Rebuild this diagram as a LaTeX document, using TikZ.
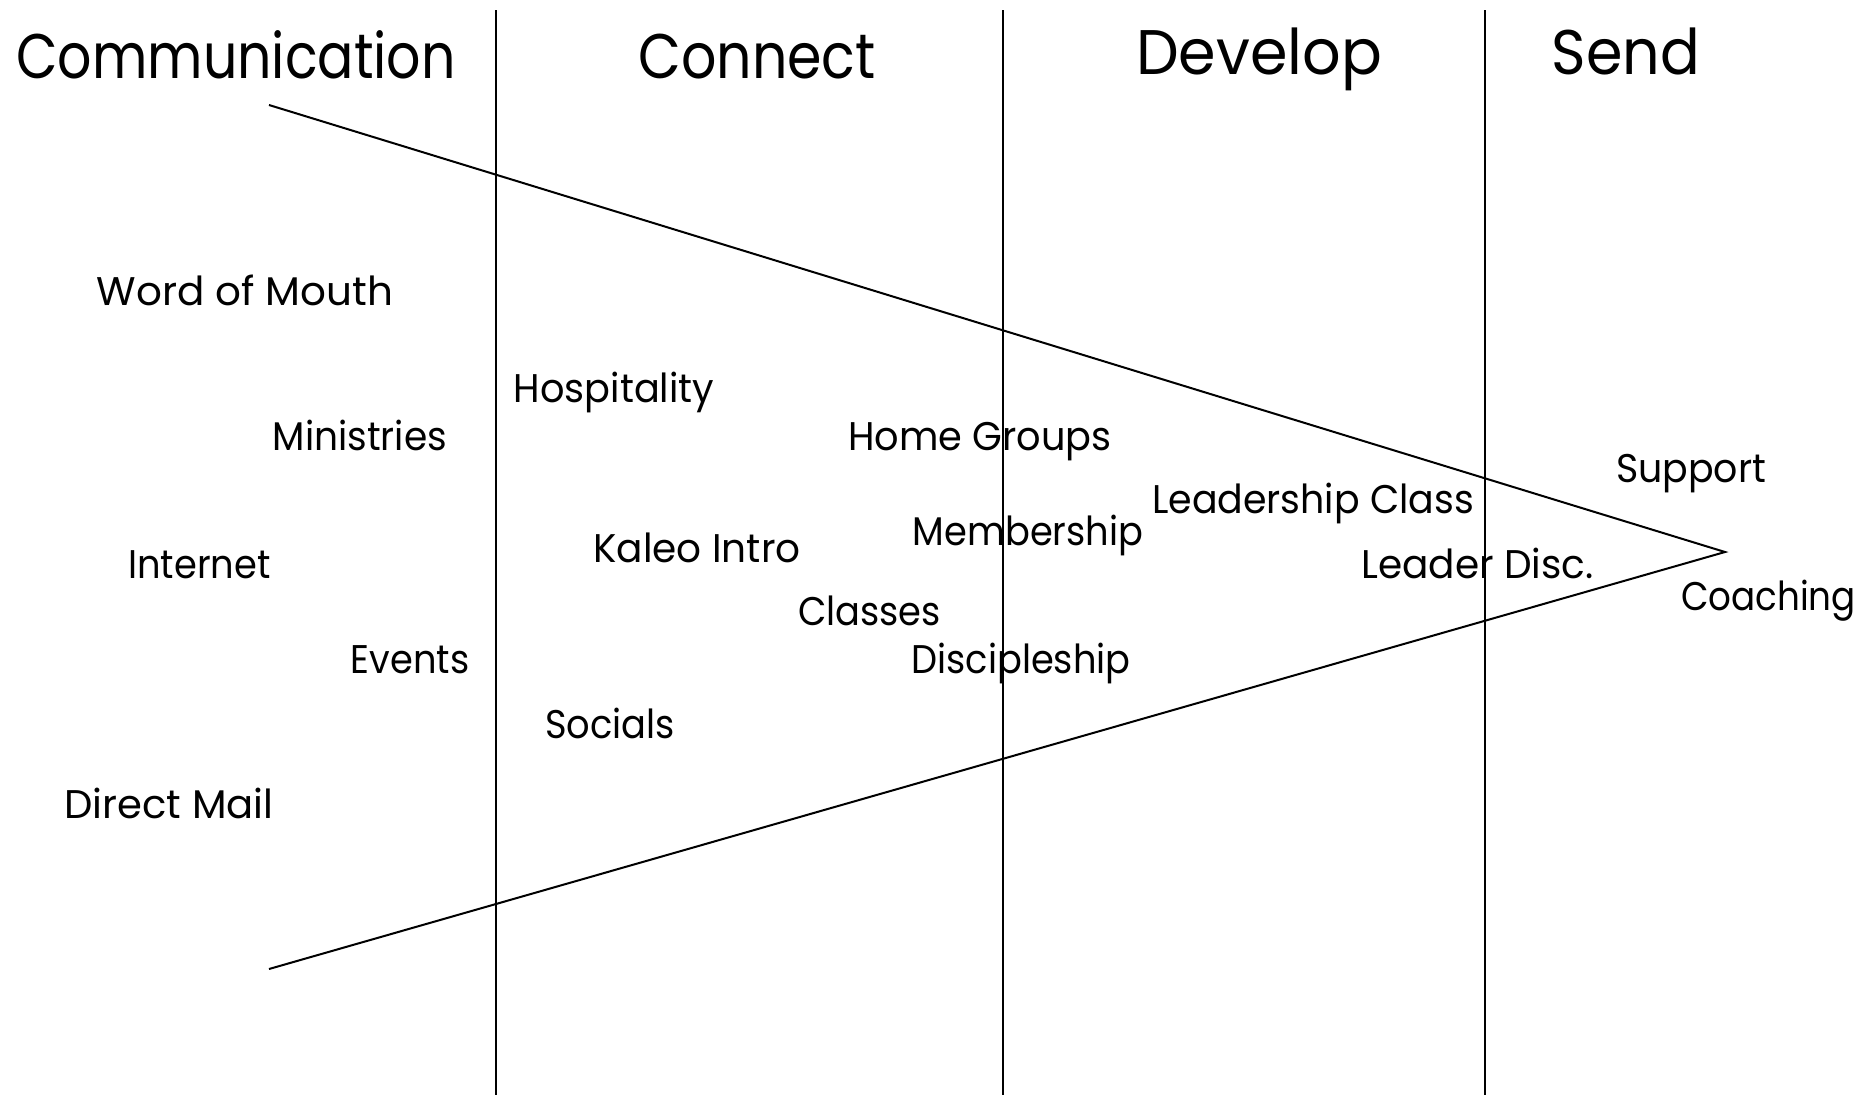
\documentclass[tikz,border=0pt]{standalone}
\usepackage{fontspec}
\setmainfont{Poppins}
\newfontfamily\labfont[FakeStretch=0.92]{Poppins}
\newfontfamily\headfont[FakeStretch=0.88]{Poppins}
\newcommand{\sx}[2]{\scalebox{#1}[1]{#2}}
\begin{document}
\begin{tikzpicture}[x=1pt,y=-1pt,
  lab/.style={anchor=base,inner sep=0pt,font=\labfont\fontsize{40}{40}\selectfont},
  head/.style={anchor=base,inner sep=0pt,font=\headfont\fontsize{63}{63}\selectfont},
  ln/.style={line width=2pt,black}]
\useasboundingbox (0,0) rectangle (1873,1095);
% column dividers
\coordinate (v1t) at (496,10); \coordinate (v1b) at (496,1095);
\coordinate (v2t) at (1003,10); \coordinate (v2b) at (1003,1095);
\coordinate (v3t) at (1485,10); \coordinate (v3b) at (1485,1095);
\draw[ln] (v1t) -- (v1b);
\draw[ln] (v2t) -- (v2b);
\draw[ln] (v3t) -- (v3b);
% funnel
\coordinate (ft) at (269,105);
\coordinate (fa) at (1725,552);
\coordinate (fb) at (269,969);
\draw[ln] (ft) -- (fa) -- (fb);
% headings
\node[head] (h1) at (236,78) {\sx{0.97}{Communication}};
\node[head] (h2) at (757,78) {Connect};
\node[head] (h3) at (1259,74) {\sx{1.09}{Develop}};
\node[head] (h4) at (1626,74) {\sx{1.06}{Send}};
% labels
\node[lab] (l1) at (245,305) {\sx{1.1}{Word of Mouth}};
\node[lab] (l2) at (614,402) {\sx{1.04}{Hospitality}};
\node[lab] (l3) at (360,450) {\sx{1.02}{Ministries}};
\node[lab] (l4) at (980,450) {\sx{1.04}{Home Groups}};
\node[lab] (l5) at (1691,482) {\sx{1.03}{Support}};
\node[lab] (l6) at (1313,513) {\sx{1.03}{Leadership Class}};
\node[lab] (l7) at (1028,545) {Membership};
\node[lab] (l8) at (697,562) {\sx{1.06}{Kaleo Intro}};
\node[lab] (l9) at (199.5,578) {Internet};
\node[lab] (l10) at (1477.6,578) {\sx{1.06}{Leader Disc.}};
\node[lab] (l11) at (1768.5,610) {\sx{0.97}{Coaching}};
\node[lab] (l12) at (869.6,625) {Classes};
\node[lab] (l13) at (410,673) {Events};
\node[lab] (l14) at (1021,673) {Discipleship};
\node[lab] (l15) at (610,738) {Socials};
\node[lab] (l16) at (169,818) {\sx{1.09}{Direct Mail}};
\end{tikzpicture}
\end{document}
